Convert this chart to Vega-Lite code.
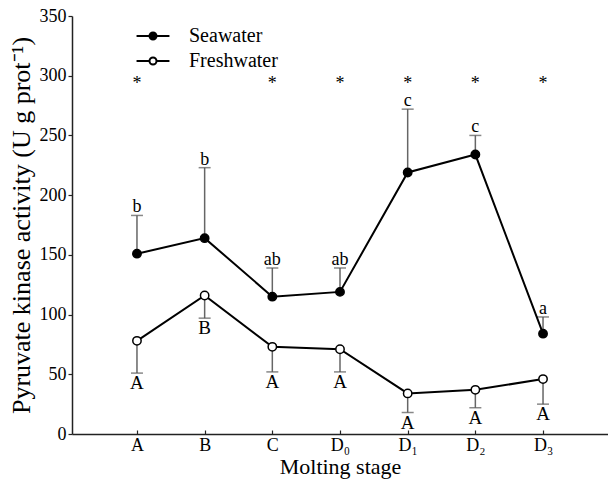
{
  "$schema": "https://vega.github.io/schema/vega-lite/v6.json",
  "autosize": {"type": "none"},
  "padding": {"left": 72, "top": 16, "right": 0, "bottom": 46},
  "width": 536,
  "height": 418,
  "background": "white",
  "config": {
    "font": "Liberation Serif",
    "view": {"stroke": null},
    "text": {"font": "Liberation Serif"},
    "legend": {"labelFont": "Liberation Serif", "titleFont": "Liberation Serif"},
    "axis": {"domainColor": "#222", "domainWidth": 1.5, "tickColor": "#222", "tickWidth": 1.2, "labelColor": "black", "titleColor": "black", "labelFont": "Liberation Serif", "titleFont": "Liberation Serif", "titleFontWeight": "normal", "grid": false}
  },
  "datasets": {
    "main": [
      {"stage": "A", "series": "Seawater", "mean": 151, "err": 183, "letter": "b"},
      {"stage": "B", "series": "Seawater", "mean": 164, "err": 223, "letter": "b"},
      {"stage": "C", "series": "Seawater", "mean": 115, "err": 139, "letter": "ab"},
      {"stage": "D₀", "series": "Seawater", "mean": 119, "err": 139, "letter": "ab"},
      {"stage": "D₁", "series": "Seawater", "mean": 219, "err": 272, "letter": "c"},
      {"stage": "D₂", "series": "Seawater", "mean": 234, "err": 250, "letter": "c"},
      {"stage": "D₃", "series": "Seawater", "mean": 84, "err": 98, "letter": "a"},
      {"stage": "A", "series": "Freshwater", "mean": 78, "err": 51, "letter": "A"},
      {"stage": "B", "series": "Freshwater", "mean": 116, "err": 97, "letter": "B"},
      {"stage": "C", "series": "Freshwater", "mean": 73, "err": 52, "letter": "A"},
      {"stage": "D₀", "series": "Freshwater", "mean": 71, "err": 52, "letter": "A"},
      {"stage": "D₁", "series": "Freshwater", "mean": 34, "err": 18, "letter": "A"},
      {"stage": "D₂", "series": "Freshwater", "mean": 37, "err": 22, "letter": "A"},
      {"stage": "D₃", "series": "Freshwater", "mean": 46, "err": 25, "letter": "A"}
    ],
    "stars": [
      {"stage": "A", "y": 296},
      {"stage": "C", "y": 296},
      {"stage": "D₀", "y": 296},
      {"stage": "D₁", "y": 296},
      {"stage": "D₂", "y": 296},
      {"stage": "D₃", "y": 296}
    ]
  },
  "encoding": {
    "x": {
      "field": "stage", "type": "nominal",
      "scale": {"type": "point", "domain": ["A", "B", "C", "D₀", "D₁", "D₂", "D₃"], "padding": 0.96},
      "axis": {"title": "Molting stage", "labelAngle": 0, "labelFont": "Liberation Serif", "titleFont": "Liberation Serif", "labelFontSize": 18, "titleFontSize": 22, "tickSize": -4, "labelPadding": 6, "titlePadding": 2}
    }
  },
  "layer": [
    {
      "mark": {"type": "rule", "color": "#333", "strokeWidth": 1.5},
      "encoding": {"x": null, "y": {"datum": 350, "type": "quantitative", "scale": {"domain": [0, 350]}}}
    },
    {
      "data": {"name": "main"},
      "mark": {"type": "rule", "color": "#666", "strokeWidth": 1.5},
      "encoding": {
        "y": {"field": "mean", "type": "quantitative", "scale": {"domain": [0, 350], "nice": false},
          "axis": {"title": "Pyruvate kinase activity (U g prot⁻¹)", "values": [0, 50, 100, 150, 200, 250, 300, 350], "labelFont": "Liberation Serif", "titleFont": "Liberation Serif", "labelFontSize": 18, "titleFontSize": 26, "tickSize": 4, "labelPadding": 2, "titlePadding": 5}},
        "y2": {"field": "err"}
      }
    },
    {
      "data": {"name": "main"},
      "mark": {"type": "tick", "orient": "horizontal", "color": "#555", "size": 12, "thickness": 1.5},
      "encoding": {"y": {"field": "err", "type": "quantitative"}}
    },
    {
      "data": {"name": "main"},
      "mark": {"type": "line", "color": "black", "strokeWidth": 2},
      "encoding": {
        "y": {"field": "mean", "type": "quantitative"},
        "detail": {"field": "series"}
      }
    },
    {
      "data": {"name": "main"},
      "mark": {"type": "point", "filled": true, "stroke": "black", "strokeWidth": 1.5, "size": 70, "opacity": 1},
      "encoding": {
        "y": {"field": "mean", "type": "quantitative"},
        "fill": {"field": "series", "type": "nominal",
          "scale": {"domain": ["Seawater", "Freshwater"], "range": ["black", "white"]},
          "legend": {"title": null, "orient": "none", "legendX": 71, "legendY": 10, "padding": 0,
            "symbolType": "M-4.7,0H-1M1,0H4.7M1,0A1,1 0 1,1 -1,0A1,1 0 1,1 1,0Z",
            "symbolSize": 49, "symbolStrokeColor": "black", "symbolStrokeWidth": 2,
            "labelFontSize": 20, "labelFont": "Liberation Serif", "labelColor": "black", "labelOffset": 26, "rowPadding": 5}
        }
      }
    },
    {
      "data": {"name": "main"},
      "transform": [{"filter": "datum.series === 'Seawater'"}],
      "mark": {"type": "text", "font": "Liberation Serif", "baseline": "alphabetic", "dy": -3, "fontSize": 18, "color": "black"},
      "encoding": {"y": {"field": "err", "type": "quantitative"}, "text": {"field": "letter"}}
    },
    {
      "data": {"name": "main"},
      "transform": [{"filter": "datum.series === 'Freshwater'"}],
      "mark": {"type": "text", "font": "Liberation Serif", "baseline": "top", "dy": 1, "fontSize": 19, "color": "black"},
      "encoding": {"y": {"field": "err", "type": "quantitative"}, "text": {"field": "letter"}}
    },
    {
      "data": {"name": "stars"},
      "mark": {"type": "text", "font": "Liberation Serif", "baseline": "middle", "dy": 4, "fontSize": 18, "color": "black", "text": "*"},
      "encoding": {"y": {"field": "y", "type": "quantitative"}}
    }
  ]
}
